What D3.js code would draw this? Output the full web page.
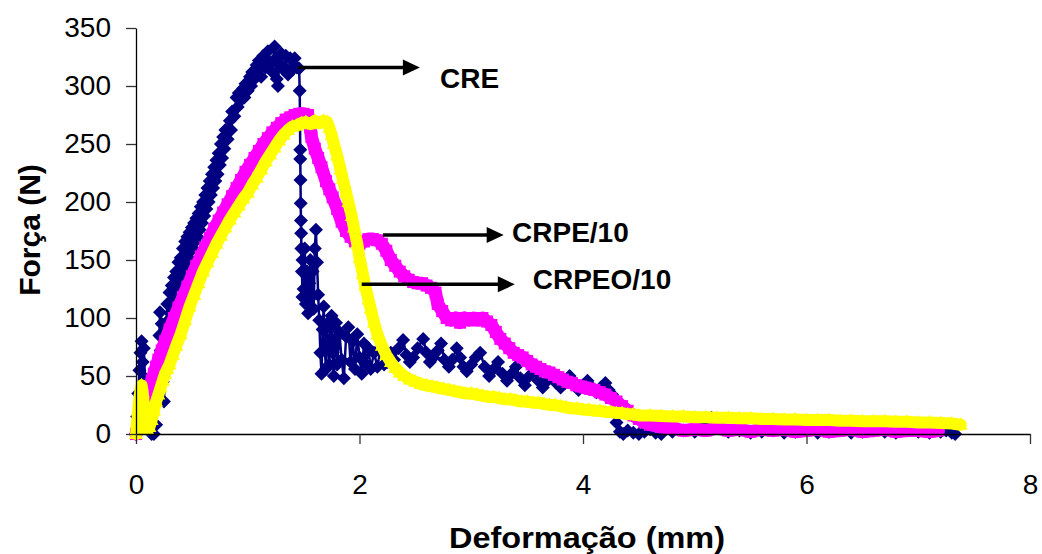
<!DOCTYPE html>
<html>
<head>
<meta charset="utf-8">
<script src="https://cdn.jsdelivr.net/npm/d3@7"></script>
<style>
  html, body { margin: 0; padding: 0; background: #fff; }
  svg { display: block; }
  text { font-family: "Liberation Sans", Arial, Helvetica, sans-serif; fill: #000; }
</style>
</head>
<body>
<svg id="chart" width="1042" height="554"></svg>
<script>
// Force–deformation curves: [deformation (mm), force (N)]
const cre = [
  [0,0],[0.01,15],[0.02,35],[0.03,55],[0.04,70],[0.05,80],[0.06,62],[0.07,74],[0.08,48],[0.09,30],
  [0.1,15],[0.12,4],[0.14,0],[0.16,0],[0.18,8],[0.19,30],[0.2,58],[0.21,85],[0.215,105],[0.22,72],
  [0.23,95],[0.24,45],[0.25,28],[0.26,55],[0.27,90],[0.28,112],[0.29,98],[0.3,122],[0.31,104],[0.32,128],
  [0.33,110],[0.34,135],[0.35,118],[0.36,140],[0.37,122],[0.38,148],[0.39,128],[0.4,152],[0.41,136],[0.42,160],
  [0.43,142],[0.44,166],[0.45,148],[0.46,170],[0.47,152],[0.48,174],[0.49,158],[0.5,178],[0.51,160],[0.52,182],
  [0.53,166],[0.54,186],[0.55,170],[0.56,190],[0.57,176],[0.58,196],[0.59,182],[0.6,200],[0.61,188],[0.62,206],
  [0.63,194],[0.64,212],[0.65,200],[0.66,218],[0.67,206],[0.68,224],[0.69,212],[0.7,230],[0.71,218],[0.72,236],
  [0.73,224],[0.74,242],[0.75,232],[0.76,250],[0.77,238],[0.78,256],[0.79,246],[0.8,262],[0.82,254],[0.84,270],
  [0.85,262],[0.86,278],[0.88,274],[0.9,290],[0.91,282],[0.92,294],[0.94,288],[0.96,298],[0.97,290],[0.98,302],
  [1.0,296],[1.02,308],[1.03,300],[1.04,312],[1.06,306],[1.08,318],[1.09,310],[1.1,322],[1.12,308],[1.14,326],
  [1.16,316],[1.18,330],[1.2,320],[1.22,312],[1.24,334],[1.25,324],[1.26,306],[1.27,300],[1.28,318],[1.3,328],
  [1.32,314],[1.34,326],[1.36,310],[1.38,324],[1.4,314],[1.42,324],[1.44,316],[1.46,315],[1.465,296],[1.47,245],
  [1.47,237],[1.472,219],[1.474,199],[1.476,184],[1.478,173],[1.48,160],
  [1.485,140],[1.49,118],[1.49,150],[1.5,125],[1.51,160],[1.52,112],[1.53,140],[1.54,104],[1.55,130],[1.56,150],
  [1.57,118],[1.58,140],[1.59,108],[1.6,160],[1.61,176],[1.62,148],[1.63,120],[1.64,98],[1.65,70],[1.66,52],
  [1.67,90],[1.68,110],[1.69,72],[1.7,56],[1.71,95],[1.72,78],[1.73,60],[1.74,92],[1.75,102],[1.76,70],
  [1.77,50],[1.78,82],[1.79,96],[1.8,60],[1.82,88],[1.84,64],[1.86,48],[1.88,84],[1.9,92],[1.92,62],
  [1.94,80],[1.96,56],[1.98,86],[2.0,66],[2.02,52],[2.04,78],[2.06,60],[2.08,74],[2.1,56],[2.13,70],
  [2.16,58],[2.19,74],[2.22,60],[2.25,62],[2.28,70],[2.31,64],[2.35,74],[2.39,81],[2.42,68],[2.45,62],
  [2.48,66],[2.52,74],[2.57,82],[2.6,70],[2.63,62],[2.66,66],[2.7,72],[2.73,78],[2.76,64],[2.8,58],
  [2.83,64],[2.87,74],[2.9,66],[2.93,58],[2.96,54],[3.0,60],[3.04,66],[3.08,70],[3.12,58],[3.16,50],
  [3.2,56],[3.24,62],[3.28,52],[3.32,46],[3.36,52],[3.4,58],[3.44,48],[3.48,42],[3.52,50],[3.56,56],
  [3.6,46],[3.64,40],[3.68,46],[3.72,52],[3.76,44],[3.8,40],[3.84,44],[3.88,50],[3.92,42],[3.96,38],
  [4.0,42],[4.04,46],[4.08,40],[4.12,36],[4.16,40],[4.2,44],[4.23,38],[4.26,34],[4.28,22],[4.3,10],
  [4.33,2],[4.36,0],[4.4,3],[4.45,1],[4.5,0],[4.55,2],[4.6,4],[4.65,1],[4.7,0],[4.8,2],
  [4.9,3],[5.0,2],[5.05,5],[5.1,9],[5.15,14],[5.2,11],[5.25,4],[5.3,2],[5.4,3],[5.5,1],
  [5.6,2],[5.7,3],[5.8,1],[5.9,2],[6.0,3],[6.1,1],[6.2,2],[6.3,3],[6.4,1],[6.5,2],
  [6.6,3],[6.7,2],[6.8,1],[6.9,3],[7.0,2],[7.1,1],[7.2,2],[7.25,3],[7.3,1],[7.33,0]
];

const crpe = [
  [0,0],[0.02,8],[0.04,15],[0.06,22],[0.08,28],[0.1,34],[0.12,40],[0.14,46],[0.16,52],[0.18,58],
  [0.2,64],[0.23,72],[0.26,80],[0.3,90],[0.34,100],[0.38,109],[0.42,118],[0.46,127],[0.5,136],[0.54,145],
  [0.58,153],[0.62,161],[0.66,169],[0.7,177],[0.74,184],[0.78,191],[0.82,198],[0.86,205],[0.9,212],[0.94,219],
  [0.98,226],[1.02,232],[1.06,238],[1.1,244],[1.14,250],[1.18,255],[1.22,260],[1.26,264],[1.3,268],[1.34,271],
  [1.38,273],[1.42,275],[1.46,276],[1.5,276],[1.54,275],[1.56,264],[1.57,256],[1.6,246],[1.63,238],[1.66,230],
  [1.7,218],[1.73,211],[1.76,204],[1.8,194],[1.84,183],[1.88,175],[1.92,170],[1.96,166],[2.0,164],[2.04,166],
  [2.08,168],[2.12,168],[2.16,167],[2.2,164],[2.24,158],[2.28,150],[2.32,145],[2.36,140],[2.4,136],[2.44,133],
  [2.48,131],[2.52,130],[2.56,130],[2.6,128],[2.64,126],[2.68,122],[2.7,112],[2.74,106],[2.78,100],[2.82,98],
  [2.86,100],[2.9,96],[2.94,100],[2.98,98],[3.02,100],[3.06,98],[3.1,100],[3.14,97],[3.18,94],[3.22,88],
  [3.26,82],[3.3,78],[3.34,74],[3.38,70],[3.42,68],[3.46,66],[3.5,63],[3.54,60],[3.58,58],[3.62,56],
  [3.66,54],[3.7,53],[3.74,51],[3.78,49],[3.82,47],[3.86,45],[3.9,44],[3.94,42],[3.98,41],[4.02,40],
  [4.06,39],[4.1,38],[4.15,36],[4.2,34],[4.25,31],[4.3,28],[4.35,24],[4.4,20],[4.45,16],[4.5,13],
  [4.55,10],[4.6,8],[4.7,6],[4.8,5],[4.9,3],[5.0,4],[5.1,3],[5.2,5],[5.3,3],[5.4,4],
  [5.5,2],[5.6,4],[5.7,3],[5.8,4],[5.9,2],[6.0,3],[6.1,4],[6.2,2],[6.3,3],[6.4,4],
  [6.5,2],[6.6,3],[6.7,4],[6.8,2],[6.9,3],[7.0,3],[7.1,2],[7.18,3]
];

const crpeo = [
  [0,0],[0.01,10],[0.02,20],[0.03,30],[0.04,38],[0.05,42],[0.06,36],[0.07,26],[0.08,16],[0.09,8],
  [0.1,4],[0.12,6],[0.14,12],[0.16,20],[0.18,28],[0.2,34],[0.22,40],[0.24,46],[0.26,52],[0.28,56],
  [0.3,60],[0.33,68],[0.36,76],[0.4,86],[0.44,98],[0.48,110],[0.52,120],[0.56,130],[0.6,140],[0.64,148],
  [0.68,156],[0.72,164],[0.76,171],[0.8,178],[0.84,185],[0.88,191],[0.92,197],[0.96,203],[1.0,208],[1.04,215],
  [1.08,221],[1.12,228],[1.16,235],[1.2,241],[1.24,247],[1.28,253],[1.32,258],[1.36,262],[1.4,265],[1.44,266],
  [1.48,268],[1.52,269],[1.56,267],[1.6,270],[1.64,268],[1.68,270],[1.71,269],[1.73,264],[1.75,258],[1.77,250],
  [1.8,240],[1.83,228],[1.85,220],[1.88,208],[1.9,200],[1.93,188],[1.95,178],[1.98,164],[2.0,152],[2.03,138],
  [2.05,128],[2.08,116],[2.1,108],[2.13,96],[2.16,86],[2.2,76],[2.24,68],[2.28,62],[2.32,57],[2.36,53],
  [2.4,50],[2.45,47],[2.5,45],[2.55,43],[2.6,42],[2.65,41],[2.7,40],[2.75,39],[2.8,38],[2.85,37],
  [2.9,36],[2.95,35],[3.0,35],[3.05,34],[3.1,33],[3.15,32],[3.2,32],[3.25,31],[3.3,30],[3.35,30],
  [3.4,29],[3.45,28],[3.5,28],[3.55,27],[3.6,27],[3.65,26],[3.7,25],[3.75,25],[3.8,24],[3.85,23],
  [3.9,22],[3.95,22],[4.0,21],[4.05,21],[4.1,20],[4.15,20],[4.2,19],[4.25,19],[4.3,18],[4.35,18],
  [4.4,17],[4.45,17],[4.5,16],[4.6,16],[4.7,15.5],[4.8,15],[4.9,15],[5.0,14.5],[5.1,14.5],[5.2,14],
  [5.3,14],[5.4,13.5],[5.5,13.5],[5.6,13],[5.7,13],[5.8,12.5],[5.9,12.5],[6.0,12],[6.1,12],[6.2,12],
  [6.3,11.5],[6.4,11.5],[6.5,11],[6.6,11],[6.7,11],[6.8,10.5],[6.9,10.5],[7.0,10],[7.1,10],[7.2,9.5],
  [7.3,9],[7.38,8]
];

const xTicks = [0, 2, 4, 6, 8];
const yTicks = [0, 50, 100, 150, 200, 250, 300, 350];
const seriesNames = ["CRE", "CRPE/10", "CRPEO/10"];

// Callout arrows: from a point on the curve out to the series name (data units)
const calloutFrom = [[1.45, 316], [2.21, 171.5], [2.02, 129]];
const calloutTo   = [[2.54, 316], [3.29, 171.5], [3.39, 129]];
const calloutText = [[2.72, 298], [3.365, 165.5], [3.55, 125]];

const svg = d3.select("#chart");
const x = d3.scaleLinear().domain([0, 8]).range([136, 1030]);
const y = d3.scaleLinear().domain([0, 350]).range([434, 28]);

// Marker shapes
const diamond = "M0,-7L7,0L0,7L-7,0Z";
const square = "M-6,-6H6V6H-6Z";
const triangle = "M0,-7.5L7,5L-7,5Z";

const styles = [
  { data: cre,   color: "#000080", width: 2.5, marker: diamond },
  { data: crpe,  color: "#FF00FF", width: 13,  marker: square },
  { data: crpeo, color: "#FFFF00", width: 12,  marker: triangle }
];

const line = d3.line().x(d => x(d[0])).y(d => y(d[1]));

const plot = svg.append("g");
styles.forEach(s => {
  const g = plot.append("g");
  g.append("path")
    .datum(s.data)
    .attr("d", line)
    .attr("fill", "none")
    .attr("stroke", s.color)
    .attr("stroke-width", s.width)
    .attr("stroke-linejoin", "round")
    .attr("stroke-linecap", "round");
  g.selectAll("path.m")
    .data(s.data)
    .join("path")
    .attr("class", "m")
    .attr("d", s.marker)
    .attr("transform", d => `translate(${x(d[0])},${y(d[1])})`)
    .attr("fill", s.color);
});

// Axes
const yAxis = d3.axisLeft(y).tickValues(yTicks).tickSize(10).tickSizeOuter(0).tickPadding(15);
const xAxis = d3.axisBottom(x).tickValues(xTicks).tickSize(10).tickSizeOuter(0).tickPadding(30);

const gy = svg.append("g").attr("transform", "translate(136,0)").call(yAxis);
const gx = svg.append("g").attr("transform", "translate(0,434)").call(xAxis);
[gx, gy].forEach(g => {
  g.select(".domain").attr("stroke", "#000").attr("stroke-width", 1.3);
  g.selectAll(".tick line").attr("stroke", "#333").attr("stroke-width", 1.3);
  g.selectAll(".tick text")
    .attr("font-size", 28)
    .attr("font-family", "'Liberation Sans', Arial, sans-serif")
    .attr("fill", "#000");
});

// Axis titles
svg.append("text")
  .attr("x", 587).attr("y", 548)
  .attr("text-anchor", "middle")
  .attr("font-size", 30).attr("font-weight", "bold")
  .attr("textLength", 276).attr("lengthAdjust", "spacingAndGlyphs")
  .text("Deformação (mm)");

svg.append("text")
  .attr("transform", "translate(40,230) rotate(-90)")
  .attr("text-anchor", "middle")
  .attr("font-size", 30).attr("font-weight", "bold")
  .text("Força (N)");

// Callouts
const ann = svg.append("g");
seriesNames.forEach((name, i) => {
  const x0 = x(calloutFrom[i][0]), y0 = y(calloutFrom[i][1]);
  const x1 = x(calloutTo[i][0]), y1 = y(calloutTo[i][1]);
  ann.append("line")
    .attr("x1", x0).attr("y1", y0).attr("x2", x1 - 14).attr("y2", y1)
    .attr("stroke", "#000").attr("stroke-width", 3.5);
  ann.append("path")
    .attr("d", `M${x1},${y1}L${x1 - 17},${y1 - 8}L${x1 - 17},${y1 + 8}Z`)
    .attr("fill", "#000");
  ann.append("text")
    .attr("x", x(calloutText[i][0])).attr("y", y(calloutText[i][1]))
    .attr("font-size", 28).attr("font-weight", "bold")
    .text(name);
});
</script>
</body>
</html>
